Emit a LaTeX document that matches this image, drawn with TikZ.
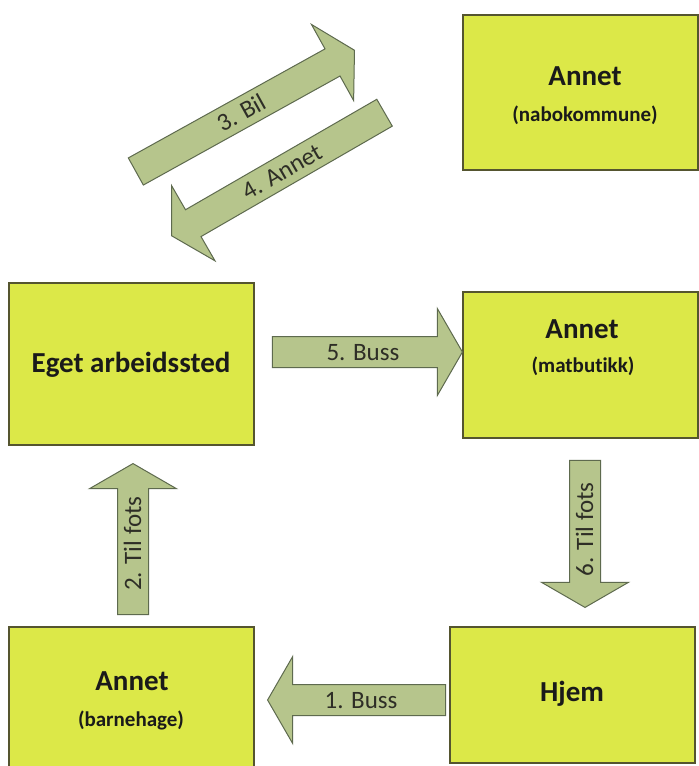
\documentclass[tikz,border=0pt]{standalone}
\usepackage{fontspec}
\setmainfont{Carlito}[Ligatures=NoCommon]
\usetikzlibrary{shapes.arrows}
\definecolor{boxfill}{HTML}{DCE848}
\definecolor{boxline}{HTML}{55552F}
\definecolor{arrfill}{HTML}{B6C58C}
\definecolor{arrline}{HTML}{5E6A4E}
\definecolor{txt}{HTML}{1A1A1A}
\definecolor{lbl}{HTML}{2E2E26}
\begin{document}
\begin{tikzpicture}[x=1pt,y=-1pt,
  box/.style={draw=boxline, line width=1.2pt, fill=boxfill, rectangle, inner sep=0pt, outer sep=0pt, anchor=north west},
  title/.style={font=\bfseries\fontsize{29}{35}\selectfont, text=txt, anchor=base, inner sep=0pt},
  sub/.style={font=\bfseries\fontsize{21}{25}\selectfont, text=txt, anchor=base, inner sep=0pt},
  barrow/.style={single arrow, draw=arrline, line width=1pt, fill=arrfill,
    single arrow tip angle=120, single arrow head extend=28pt, inner xsep=4pt, inner ysep=7pt,
    text height=16pt, text depth=0pt, font=\fontsize{25}{30}\selectfont, text=lbl, anchor=tip}]
\clip (0,0) rectangle (699,766);
\fill[white] (0,0) rectangle (699,766);
% boxes
\node[box, minimum width=235pt, minimum height=155pt] (nabo) at (463,15) {};
\node[box, minimum width=245pt, minimum height=162pt] (eget) at (9,283) {};
\node[box, minimum width=235pt, minimum height=146pt] (mat) at (463,292) {};
\node[box, minimum width=245pt, minimum height=150pt] (barne) at (9,627) {};
\node[box, minimum width=245pt, minimum height=136pt] (hjem) at (450,627) {};
% texts
\node[title] (naboT) at (585,85) {Annet};
\node[sub] (naboS) at (585,121) {(nabokommune)};
\node[title] (egetT) at (131,372) {Eget arbeidssted};
\node[title] (matT) at (582,338) {Annet};
\node[sub] (matS) at (583,372) {(matbutikk)};
\node[title] (barneT) at (132,690) {Annet};
\node[sub] (barneS) at (131,726) {(barnehage)};
\node[title] (hjemT) at (572,701) {Hjem};
% block arrows
\node[barrow, minimum height=190pt] (a5) at (463,352) {5. Buss};
\node[barrow, shape border rotate=180, minimum height=178pt] (a1) at (267,700) {1. Buss\hspace{26pt}};
\node[barrow, rotate=90, minimum height=151pt] (a2) at (133,463) {2. Til fots};
\node[barrow, rotate=90, shape border rotate=180, minimum height=147pt] (a6) at (585,608) {6. Til fots\hspace{20pt}};
\node[barrow, rotate=29, minimum height=250pt] (a3) at (355,50) {3. Bil};
\node[barrow, rotate=30, shape border rotate=180, minimum height=246pt] (a4) at (171,236) {4. Annet};
\end{tikzpicture}
\end{document}
